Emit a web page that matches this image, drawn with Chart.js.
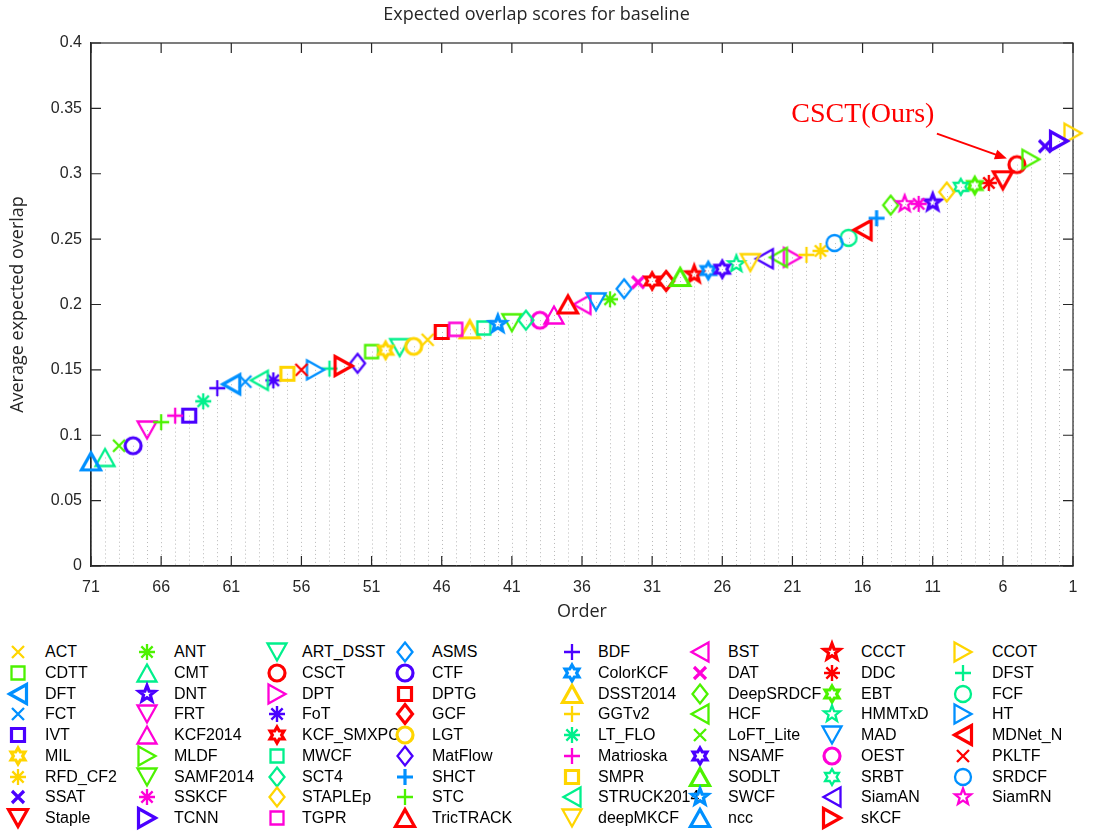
<!DOCTYPE html>
<html>
<head>
<meta charset="utf-8">
<title>Expected overlap scores for baseline</title>
<script src="https://cdn.jsdelivr.net/npm/chart.js@4.4.0/dist/chart.umd.min.js"></script>
<style>
  body { margin: 0; background: #fff; }
  #wrap { position: relative; width: 1093px; height: 831px; overflow: hidden; }
  #chartBox { position: absolute; left: 0; top: 0; width: 1093px; height: 631px; }
  .mk { position: absolute; }
  .lbl { position: absolute; font: 16px "Liberation Sans", Arial, sans-serif; line-height: 18px; color: #000; white-space: nowrap; }
</style>
</head>
<body>
<div id="wrap">
  <div id="chartBox"><canvas id="eaoChart"></canvas></div>
  <div id="legend"></div>
</div>
<script>
// Trackers in legend order (alphabetical, as in the toolkit)
const trackers = [
  'ACT', 'ANT', 'ART_DSST', 'ASMS', 'BDF', 'BST', 'CCCT', 'CCOT',
  'CDTT', 'CMT', 'CSCT', 'CTF', 'ColorKCF', 'DAT', 'DDC', 'DFST',
  'DFT', 'DNT', 'DPT', 'DPTG', 'DSST2014', 'DeepSRDCF', 'EBT', 'FCF',
  'FCT', 'FRT', 'FoT', 'GCF', 'GGTv2', 'HCF', 'HMMTxD', 'HT',
  'IVT', 'KCF2014', 'KCF_SMXPC', 'LGT', 'LT_FLO', 'LoFT_Lite', 'MAD', 'MDNet_N',
  'MIL', 'MLDF', 'MWCF', 'MatFlow', 'Matrioska', 'NSAMF', 'OEST', 'PKLTF',
  'RFD_CF2', 'SAMF2014', 'SCT4', 'SHCT', 'SMPR', 'SODLT', 'SRBT', 'SRDCF',
  'SSAT', 'SSKCF', 'STAPLEp', 'STC', 'STRUCK2014', 'SWCF', 'SiamAN', 'SiamRN',
  'Staple', 'TCNN', 'TGPR', 'TricTRACK', 'deepMKCF', 'ncc', 'sKCF'
];

// Position on the "Order" axis
const ranks = [
  47, 34, 49, 33, 62, 36, 28, 1,
  51, 70, 5, 68, 27, 32, 7, 54,
  61, 11, 21, 46, 44, 14, 8, 17,
  60, 67, 58, 30, 20, 22, 25, 55,
  64, 38, 31, 48, 63, 69, 35, 16,
  50, 4, 43, 52, 65, 26, 39, 56,
  19, 41, 40, 15, 57, 29, 9, 18,
  3, 12, 10, 66, 59, 42, 23, 13,
  6, 2, 45, 37, 24, 71, 53
];

// Average expected overlap
const scores = [
  0.173, 0.204, 0.167, 0.212, 0.136, 0.200, 0.223, 0.331,
  0.164, 0.083, 0.307, 0.092, 0.226, 0.217, 0.293, 0.151,
  0.139, 0.278, 0.236, 0.179, 0.181, 0.276, 0.291, 0.251,
  0.141, 0.104, 0.142, 0.218, 0.238, 0.236, 0.231, 0.150,
  0.115, 0.192, 0.218, 0.168, 0.126, 0.092, 0.202, 0.257,
  0.165, 0.311, 0.182, 0.155, 0.115, 0.227, 0.188, 0.150,
  0.241, 0.186, 0.188, 0.266, 0.147, 0.221, 0.290, 0.247,
  0.321, 0.277, 0.286, 0.110, 0.142, 0.185, 0.235, 0.277,
  0.295, 0.325, 0.181, 0.200, 0.232, 0.080, 0.153
];

const xTickValues = [71, 66, 61, 56, 51, 46, 41, 36, 31, 26, 21, 16, 11, 6, 1];

// Marker styles (shape letters as in MATLAB, colours from a 7-step hsv map)
const markerShapes = [
  'x', '*', 'v', 'd', '+', '<', 'p', '>',
  's', '^', 'o', 'o', 'h', 'x', '*', '+',
  '<', 'p', '>', 's', '^', 'd', 'h', 'o',
  'x', 'v', '*', 'd', '+', '<', 'p', '>',
  's', '^', 'h', 'o', '*', 'x', 'v', '<',
  'h', '>', 's', 'd', '+', 'h', 'o', 'x',
  '*', 'v', 'd', '+', 's', '^', 'h', 'o',
  'x', '*', 'd', '+', '<', 'p', '<', 'p',
  'v', '>', 's', '^', 'v', '^', '>'
];
const markerColors = [
  'Y', 'G', 'T', 'B', 'P', 'M', 'R', 'Y',
  'G', 'T', 'R', 'P', 'B', 'M', 'R', 'T',
  'B', 'P', 'M', 'R', 'Y', 'G', 'G', 'T',
  'B', 'M', 'P', 'R', 'Y', 'G', 'T', 'B',
  'P', 'M', 'R', 'Y', 'T', 'G', 'B', 'R',
  'Y', 'G', 'T', 'P', 'M', 'P', 'M', 'R',
  'Y', 'G', 'T', 'B', 'Y', 'G', 'T', 'B',
  'P', 'M', 'Y', 'G', 'T', 'B', 'P', 'M',
  'R', 'P', 'M', 'R', 'Y', 'B', 'R'
];
const palette = {
  R: '#ff0000', Y: '#ffd500', G: '#4cf200', T: '#00f08c',
  B: '#0090ff', P: '#4a00ff', M: '#ff00d8'
};
const thickOnes = ['DFT', 'IVT', 'Staple', 'TCNN', 'MIL', 'DNT', 'FoT', 'KCF_SMXPC', 'CTF',
  'DPTG', 'GCF', 'LGT', 'SHCT', 'ColorKCF', 'DSST2014', 'SMPR', 'NSAMF', 'SODLT', 'SWCF',
  'ncc', 'CCCT', 'DDC', 'EBT', 'MDNet_N', 'OEST', 'sKCF', 'SSAT', 'DAT', 'TricTRACK', 'CSCT'];

function starPath(ctx, n, ro, ri) {
  for (let k = 0; k < n * 2; k++) {
    const r = k % 2 === 0 ? ro : ri;
    const a = -Math.PI / 2 + k * Math.PI / n;
    if (k === 0) ctx.moveTo(r * Math.cos(a), r * Math.sin(a));
    else ctx.lineTo(r * Math.cos(a), r * Math.sin(a));
  }
  ctx.closePath();
}

function drawMarker(ctx, shape, cx, cy, color, lw) {
  ctx.save();
  ctx.translate(cx, cy);
  ctx.strokeStyle = color;
  ctx.lineWidth = lw;
  ctx.lineJoin = 'miter';
  ctx.beginPath();
  switch (shape) {
    case 'x':
      ctx.moveTo(-6, -6); ctx.lineTo(6, 6);
      ctx.moveTo(-6, 6); ctx.lineTo(6, -6);
      break;
    case '+':
      ctx.moveTo(-8, 0); ctx.lineTo(8, 0);
      ctx.moveTo(0, -8); ctx.lineTo(0, 8);
      break;
    case '*':
      ctx.lineWidth = Math.min(lw, 2.4);
      for (let k = 0; k < 4; k++) {
        const a = k * Math.PI / 4;
        ctx.moveTo(-8 * Math.cos(a), -8 * Math.sin(a));
        ctx.lineTo(8 * Math.cos(a), 8 * Math.sin(a));
      }
      break;
    case 's':
      ctx.rect(-6.5, -6.5, 13, 13);
      break;
    case 'd':
      ctx.moveTo(0, -9.5); ctx.lineTo(7.5, 0); ctx.lineTo(0, 9.5); ctx.lineTo(-7.5, 0); ctx.closePath();
      break;
    case '^':
      ctx.moveTo(0, -8.5); ctx.lineTo(9.5, 8.5); ctx.lineTo(-9.5, 8.5); ctx.closePath();
      break;
    case 'v':
      ctx.moveTo(0, 8.5); ctx.lineTo(9.5, -8.5); ctx.lineTo(-9.5, -8.5); ctx.closePath();
      break;
    case '<':
      ctx.moveTo(-8.5, 0); ctx.lineTo(8.5, -9.5); ctx.lineTo(8.5, 9.5); ctx.closePath();
      break;
    case '>':
      ctx.moveTo(8.5, 0); ctx.lineTo(-8.5, -9.5); ctx.lineTo(-8.5, 9.5); ctx.closePath();
      break;
    case 'o':
      ctx.arc(0, 0, 8, 0, Math.PI * 2);
      break;
    case 'p':
      starPath(ctx, 5, 8.5, 3.6);
      break;
    case 'h':
      starPath(ctx, 6, 8, 4.6);
      break;
  }
  ctx.stroke();
  ctx.restore();
}

function makeMarker(i) {
  const c = document.createElement('canvas');
  c.width = 28; c.height = 28;
  const lw = thickOnes.includes(trackers[i]) ? 3.2 : 2.3;
  drawMarker(c.getContext('2d'), markerShapes[i], 14, 14, palette[markerColors[i]], lw);
  return c;
}

const pointImgs = trackers.map((n, i) => makeMarker(i));

// Legend (9 rows x 8 columns, row-major)
const legendEl = document.getElementById('legend');
const colMarkX = [18, 147, 277, 405, 572, 700, 832, 963];
const colTextX = [45, 174, 302, 432, 598, 728, 861, 992];
trackers.forEach((name, i) => {
  const row = Math.floor(i / 8), col = i % 8;
  const cy = 652 + row * 20.75;
  const mk = makeMarker(i);
  mk.className = 'mk';
  mk.style.left = (colMarkX[col] - 14) + 'px';
  mk.style.top = (cy - 14) + 'px';
  legendEl.appendChild(mk);
  const t = document.createElement('div');
  t.className = 'lbl';
  t.textContent = name;
  t.style.left = colTextX[col] + 'px';
  t.style.top = (cy - 9) + 'px';
  legendEl.appendChild(t);
});

const axisColor = '#262626';

// Dotted stems, box around the plot and inward ticks on all four sides
const boxPlugin = {
  id: 'box',
  beforeDatasetsDraw(chart) {
    const {ctx, chartArea: a, scales} = chart;
    ctx.save();
    const meta = chart.getDatasetMeta(0);
    ctx.strokeStyle = '#b8b8b8';
    ctx.lineWidth = 1;
    ctx.setLineDash([1, 3]);
    meta.data.forEach(pt => {
      ctx.beginPath();
      ctx.moveTo(Math.round(pt.x) + 0.5, pt.y);
      ctx.lineTo(Math.round(pt.x) + 0.5, a.bottom);
      ctx.stroke();
    });
    ctx.setLineDash([]);
    ctx.strokeStyle = axisColor;
    ctx.lineWidth = 1.2;
    ctx.strokeRect(a.left, a.top, a.right - a.left, a.bottom - a.top);
    ctx.beginPath();
    xTickValues.forEach(v => {
      const px = scales.x.getPixelForValue(v);
      ctx.moveTo(px, a.bottom); ctx.lineTo(px, a.bottom - 10);
      ctx.moveTo(px, a.top); ctx.lineTo(px, a.top + 10);
    });
    scales.y.ticks.forEach(t => {
      const py = scales.y.getPixelForValue(t.value);
      ctx.moveTo(a.left, py); ctx.lineTo(a.left + 10, py);
      ctx.moveTo(a.right, py); ctx.lineTo(a.right - 10, py);
    });
    ctx.stroke();
    ctx.restore();
  }
};

// "CSCT(Ours)" note with arrow
const notePlugin = {
  id: 'note',
  afterDatasetsDraw(chart) {
    const {ctx} = chart;
    const pt = chart.getDatasetMeta(0).data[trackers.indexOf('CSCT')];
    ctx.save();
    ctx.fillStyle = '#ff0000';
    ctx.strokeStyle = '#ff0000';
    ctx.font = '28px "Liberation Serif", "Times New Roman", serif';
    ctx.textAlign = 'center';
    ctx.textBaseline = 'middle';
    ctx.fillText('CSCT(Ours)', pt.x - 154, pt.y - 50);
    const x0 = pt.x - 80, y0 = pt.y - 31, x1 = pt.x - 10, y1 = pt.y - 6;
    const ang = Math.atan2(y1 - y0, x1 - x0);
    ctx.lineWidth = 2;
    ctx.beginPath();
    ctx.moveTo(x0, y0);
    ctx.lineTo(x1 - 8 * Math.cos(ang), y1 - 8 * Math.sin(ang));
    ctx.stroke();
    ctx.beginPath();
    ctx.moveTo(x1, y1);
    ctx.lineTo(x1 - 12 * Math.cos(ang) + 5 * Math.sin(ang), y1 - 12 * Math.sin(ang) - 5 * Math.cos(ang));
    ctx.lineTo(x1 - 12 * Math.cos(ang) - 5 * Math.sin(ang), y1 - 12 * Math.sin(ang) + 5 * Math.cos(ang));
    ctx.closePath();
    ctx.fill();
    ctx.restore();
  }
};

const tickFont = { family: '"Liberation Sans", Arial, sans-serif', size: 16 };
const titleFont = { family: '"Open Sans", sans-serif', size: 18, weight: 'normal' };

new Chart(document.getElementById('eaoChart'), {
  type: 'scatter',
  data: {
    datasets: [{
      data: trackers.map((n, i) => ({ x: ranks[i], y: scores[i] })),
      pointStyle: ctx => pointImgs[ctx.dataIndex],
      pointRadius: 9,
      clip: false
    }]
  },
  options: {
    animation: false,
    responsive: true,
    maintainAspectRatio: false,
    layout: { padding: { left: 0, right: 20, top: 0, bottom: 0 } },
    plugins: {
      legend: { display: false },
      tooltip: { enabled: false },
      title: {
        display: true,
        text: 'Expected overlap scores for baseline',
        font: { family: '"Open Sans", sans-serif', size: 18, weight: 'normal' },
        color: axisColor,
        padding: { top: 4.5, bottom: 16.9 }
      }
    },
    scales: {
      x: {
        type: 'linear',
        reverse: true,
        min: 1,
        max: 71,
        afterBuildTicks: s => { s.ticks = xTickValues.map(v => ({ value: v })); },
        afterFit: s => { s.height = 65; },
        grid: { display: false, drawTicks: false },
        border: { display: true, color: axisColor, width: 1.2 },
        ticks: { font: tickFont, color: axisColor, padding: 12, maxRotation: 0, autoSkip: false },
        title: { display: true, text: 'Order', font: titleFont, color: axisColor, padding: { top: 4, bottom: 8 } }
      },
      y: {
        min: 0,
        max: 0.4,
        afterFit: s => { s.width = 91; },
        grid: { display: false, drawTicks: false },
        border: { display: true, color: axisColor, width: 1.2 },
        ticks: {
          stepSize: 0.05, font: tickFont, color: axisColor, padding: 9,
          callback: v => String(parseFloat(v.toFixed(2)))
        },
        title: { display: true, text: 'Average expected overlap', font: titleFont, color: axisColor, padding: { top: 7, bottom: 4 } }
      }
    }
  },
  plugins: [boxPlugin, notePlugin]
});
</script>
</body>
</html>
